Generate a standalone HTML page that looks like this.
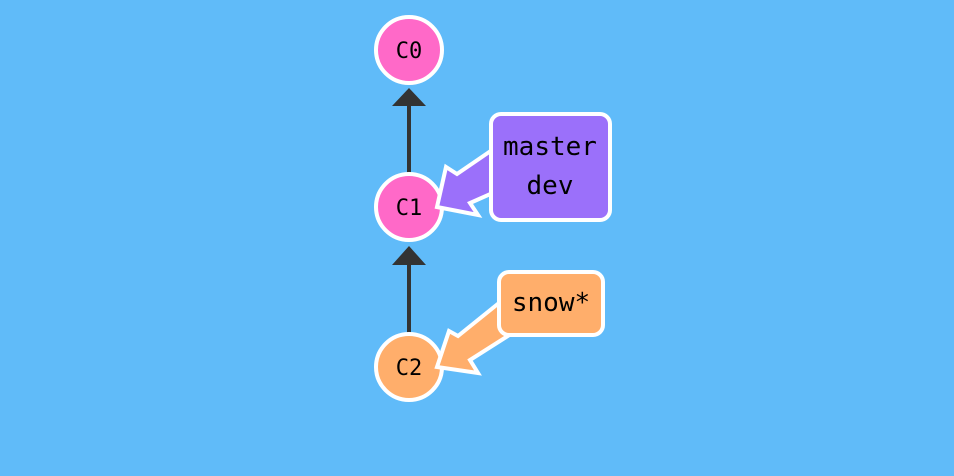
<!DOCTYPE html>
<html><head><style>
html,body{margin:0;padding:0;background:#60bbf9;}
svg{display:block}
text{font-family:"DejaVu Sans Mono","Liberation Mono",monospace;fill:#000;text-anchor:middle;}
</style></head><body>
<svg width="954" height="476" viewBox="0 0 954 476">
<rect width="954" height="476" fill="#60bbf9"/>
<line x1="409" y1="175" x2="409" y2="100" stroke="#333" stroke-width="4"/>
<polygon points="409,88 392,106 426,106" fill="#333"/>
<line x1="409" y1="335" x2="409" y2="258" stroke="#333" stroke-width="4"/>
<polygon points="409,246 392,265 426,265" fill="#333"/>
<circle cx="409" cy="50" r="33" fill="#ff69c8" stroke="#fff" stroke-width="4"/>
<text x="409" y="58" font-size="22">C0</text>
<circle cx="409" cy="207" r="33" fill="#ff69c8" stroke="#fff" stroke-width="4"/>
<text x="409" y="215" font-size="22">C1</text>
<circle cx="409" cy="367" r="33" fill="#ffae6b" stroke="#fff" stroke-width="4"/>
<text x="409" y="375" font-size="22">C2</text>
<polygon points="437,207 446,167 457,174 495,148 495,192 470,203 478,215" fill="#9b70fa" stroke="#fff" stroke-width="4"/>
<rect x="491" y="114" width="119" height="106" rx="10" fill="#9b70fa" stroke="#fff" stroke-width="4"/>
<text x="550" y="155" font-size="26">master</text>
<text x="550" y="194" font-size="26">dev</text>
<polygon points="437,367 449,331 458,336 499,303 511,334 470,360 478,373" fill="#ffae6b" stroke="#fff" stroke-width="4"/>
<rect x="499" y="272" width="104" height="63" rx="10" fill="#ffae6b" stroke="#fff" stroke-width="4"/>
<text x="551" y="311" font-size="26">snow*</text>
</svg>
</body></html>
